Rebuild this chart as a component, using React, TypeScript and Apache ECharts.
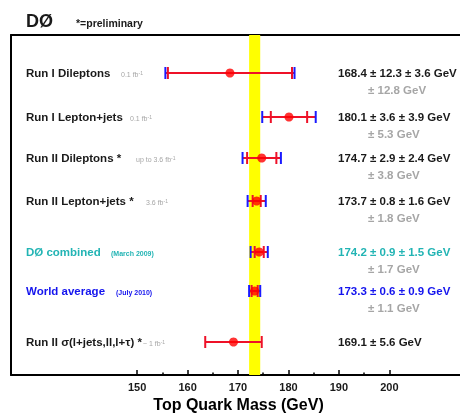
import React, { useEffect, useRef } from 'react';
import * as echarts from 'echarts';

// ---- data ----
const names = [
  'Run I Dileptons',
  'Run I Lepton+jets',
  'Run II Dileptons *',
  'Run II Lepton+jets *',
  'DØ combined',
  'World average',
  'Run II σ(l+jets,ll,l+τ) *',
];
const notes = ['0.1 fb', '0.1 fb', 'up to 3.6 fb', '3.6 fb', '(March 2009)', '(July 2010)', '~ 1 fb'];
const noteSup = ['-1', '-1', '-1', '-1', '', '', '-1'];
const mass = [168.4, 180.1, 174.7, 173.7, 174.2, 173.3, 169.1];
const stat = [12.3, 3.6, 2.9, 0.8, 0.9, 0.6, 5.6];
const syst: (number | null)[] = [3.6, 3.9, 2.4, 1.6, 1.5, 0.9, null];
const total: (number | null)[] = [12.8, 5.3, 3.8, 1.8, 1.7, 1.1, null];
const tickValues = [150, 160, 170, 180, 190, 200];
const minorTickValues = [155, 165, 175, 185, 195];

// ---- layout (not data) ----
const rowY = [38, 82, 123, 166, 217, 256, 307]; // y-axis units (0..340, top-down)
const noteX = [121, 130, 136, 146, 111, 116, 143];
const Y_MAX = 340;
const X_MIN = 125;
const X_MAX = 214;

const F = "'Liberation Sans', Arial, Helvetica, sans-serif";
const RED = '#ee1128';
const DOT = '#ff0000';
const BLUE = '#1a1aff';
const TEAL = '#22b4b4';
const WBLUE = '#1414ee';
const GRAY = '#a6a6a6';
const INK = '#1a1a1a';

export default function App() {
  const ref = useRef<HTMLDivElement>(null);
  useEffect(() => {
    const chart = echarts.init(ref.current!, null, { renderer: 'svg' });
    const grid = { left: 11, right: 0, top: 35, bottom: 39, containLabel: false, outerBoundsMode: 'none' };
    const py = (v: number) => grid.top + v; // 1 unit = 1px on y scale

    const errData = mass.map((m, i) => [m, rowY[i], stat[i], total[i] ?? 0]);
    const dotData = mass.map((m, i) => [m, rowY[i]]);
    const wa = 5;
    const band = [[mass[wa] - (total[wa] as number), mass[wa] + (total[wa] as number)]];

    const rowColor = (i: number) => (i === 4 ? TEAL : i === 5 ? WBLUE : INK);

    const graphics: any[] = [
      { type: 'text', x: 26, y: 21, style: { text: 'DØ', font: `bold 18px ${F}`, fill: INK, verticalAlign: 'middle' } },
      { type: 'text', x: 76, y: 23, style: { text: '*=preliminary', font: `bold 10.5px ${F}`, fill: INK, verticalAlign: 'middle' } },
    ];
    names.forEach((n, i) => {
      const y = py(rowY[i]);
      const c = rowColor(i);
      graphics.push({ type: 'text', x: 26, y, style: { text: n, font: `bold 11.5px ${F}`, fill: c, verticalAlign: 'middle' } });
      const noteColor = i === 4 || i === 5 ? c : GRAY;
      graphics.push({
        type: 'text', x: noteX[i], y: y + 1,
        style: {
          text: `{a|${notes[i]}}` + (noteSup[i] ? `{b|${noteSup[i]}}` : ''),
          verticalAlign: 'middle',
          rich: {
            a: { font: `${i === 4 || i === 5 ? 'bold ' : ''}7px ${F}`, fill: noteColor, color: noteColor, verticalAlign: 'bottom' },
            b: { font: `5px ${F}`, fill: noteColor, color: noteColor, verticalAlign: 'top' },
          },
        },
      });
      const main = syst[i] != null
        ? `${mass[i].toFixed(1)} ± ${stat[i].toFixed(1)} ± ${(syst[i] as number).toFixed(1)} GeV`
        : `${mass[i].toFixed(1)} ± ${stat[i].toFixed(1)} GeV`;
      graphics.push({ type: 'text', x: 338, y, style: { text: main, font: `bold 11.5px ${F}`, fill: c, verticalAlign: 'middle' } });
      if (total[i] != null) {
        graphics.push({ type: 'text', x: 368, y: y + 16.5, style: { text: `± ${(total[i] as number).toFixed(1)} GeV`, font: `bold 11.5px ${F}`, fill: GRAY, verticalAlign: 'middle' } });
      }
    });

    const cap = (x: number, y: number, color: string) => ({
      type: 'line', shape: { x1: x, y1: y - 6, x2: x, y2: y + 6 }, style: { stroke: color, lineWidth: 2 },
    });

    const hiddenAxis = { axisTick: { show: false }, axisLabel: { show: false }, splitLine: { show: false } };

    chart.setOption({
      animation: false,
      grid: [grid, grid],
      xAxis: [
        {
          type: 'value', gridIndex: 0, position: 'bottom', min: X_MIN, max: X_MAX,
          axisLine: { show: true, onZero: false, lineStyle: { color: '#000', width: 2 } },
          axisTick: { show: true, inside: true, length: 5, customValues: tickValues, lineStyle: { color: '#000', width: 1.5 } },
          axisLabel: { show: true, customValues: tickValues, margin: 6, fontFamily: F, fontWeight: 'bold', fontSize: 11, color: INK },
          splitLine: { show: false },
          name: 'Top Quark Mass (GeV)', nameLocation: 'middle', nameGap: 17,
          nameTextStyle: { fontFamily: F, fontWeight: 'bold', fontSize: 16, color: '#000', padding: [0, 0, 0, 6] },
        },
        {
          type: 'value', gridIndex: 0, position: 'top', min: X_MIN, max: X_MAX,
          axisLine: { show: true, onZero: false, lineStyle: { color: '#000', width: 2 } },
          ...hiddenAxis,
        },
        {
          type: 'value', gridIndex: 1, position: 'bottom', min: X_MIN, max: X_MAX,
          axisLine: { show: false, onZero: false },
          axisTick: { show: true, inside: true, length: 2.5, customValues: minorTickValues, lineStyle: { color: '#000', width: 1.5 } },
          axisLabel: { show: false },
          splitLine: { show: false },
        },
      ],
      yAxis: [
        {
          type: 'value', gridIndex: 0, min: 0, max: Y_MAX, inverse: true,
          axisLine: { show: true, onZero: false, lineStyle: { color: '#000', width: 2 } },
          ...hiddenAxis,
        },
        {
          type: 'value', gridIndex: 1, min: 0, max: Y_MAX, inverse: true, show: false,
        },
      ],
      series: [
        {
          type: 'custom', z: 1, xAxisIndex: 0, yAxisIndex: 0, data: band,
          encode: { x: [0, 1] },
          renderItem: (_p: any, api: any) => {
            const a = api.coord([api.value(0), 0]);
            const b = api.coord([api.value(1), Y_MAX]);
            return { type: 'rect', shape: { x: a[0], y: a[1], width: b[0] - a[0], height: b[1] - a[1] }, style: { fill: '#ffff00' } };
          },
        },
        {
          type: 'custom', z: 3, xAxisIndex: 0, yAxisIndex: 0, data: errData,
          encode: { x: 0, y: 1 },
          renderItem: (_p: any, api: any) => {
            const m = api.value(0), y = api.value(1), st = api.value(2), tot = api.value(3);
            const outer = tot > 0 ? tot : st;
            const p = api.coord([m, y]);
            const o0 = api.coord([m - outer, y])[0];
            const o1 = api.coord([m + outer, y])[0];
            const s0 = api.coord([m - st, y])[0];
            const s1 = api.coord([m + st, y])[0];
            const children: any[] = [
              { type: 'line', shape: { x1: o0, y1: p[1], x2: o1, y2: p[1] }, style: { stroke: RED, lineWidth: 2 } },
            ];
            if (tot > 0) { children.push(cap(o0, p[1], BLUE), cap(o1, p[1], BLUE)); }
            children.push(cap(s0, p[1], RED), cap(s1, p[1], RED));
            return { type: 'group', children };
          },
        },
        {
          type: 'scatter', z: 5, xAxisIndex: 0, yAxisIndex: 0, data: dotData, symbol: 'circle', symbolSize: 9,
          itemStyle: { color: DOT },
        },
      ],
      graphic: graphics,
    });
    return () => chart.dispose();
  }, []);
  return <div ref={ref} style={{ position: 'fixed', left: 0, top: 0, width: 460, height: 414 }} />;
}
